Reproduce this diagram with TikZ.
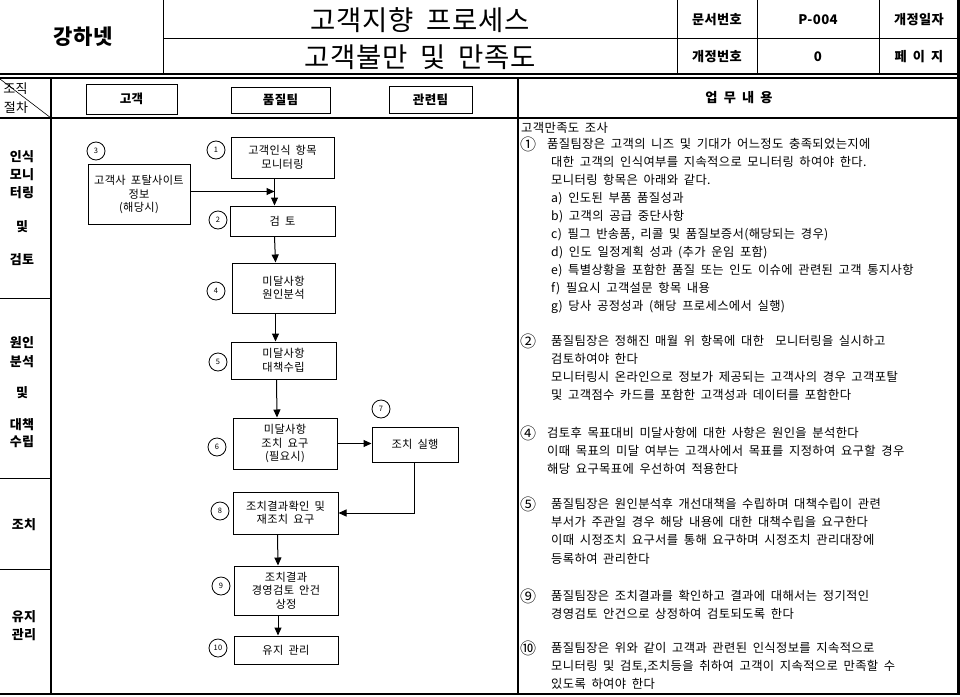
\documentclass[tikz,border=0pt]{standalone}
\usepackage{fontspec}
\setmainfont[WordSpace=1.8,LetterSpace=3]{Noto Sans CJK KR}
\usetikzlibrary{arrows.meta}
\begin{document}
\begin{tikzpicture}[x=1pt,y=-1pt,
  thk/.style={line width=2.2pt},
  thn/.style={line width=1pt},
  box/.style={draw,line width=1pt,inner sep=0pt,align=center,font=\fontsize{11.2}{13.5}\selectfont},
  hbox/.style={draw,line width=1pt,inner sep=0pt,font=\bfseries\fontsize{12.5}{14}\selectfont,text height=10.6pt,text depth=1.2pt},
  num/.style={draw,circle,line width=0.8pt,minimum size=18pt,inner sep=0pt,font=\fontsize{7.5}{8}\selectfont},
  arr/.style={line width=1pt,-{Triangle[length=8pt,width=7pt]}},
  ln/.style={anchor=west,inner sep=0pt,font=\fontsize{12.3}{14}\selectfont,text height=10.5pt,text depth=1.2pt},
  kn/.style={anchor=west,inner sep=0pt,font=\fontsize{16}{18}\selectfont,text height=13.6pt,text depth=1.6pt},
  lab/.style={inner sep=0pt,font=\bfseries\fontsize{13}{15}\selectfont,text height=11pt,text depth=1.3pt},
  hd/.style={inner sep=0pt,font=\bfseries\fontsize{13.2}{15}\selectfont,text height=11.2pt,text depth=1.3pt},
  ttl/.style={inner sep=0pt,font=\fontsize{27.5}{30}\selectfont,text height=23.4pt,text depth=2.8pt},
]
\useasboundingbox (0,0) rectangle (960,696);
% ---------- frame ----------
\draw[thn] (163,0) -- (163,74);
\draw[thn] (163,38) -- (958,38);
\draw[thn] (677,0) -- (677,74);
\draw[thn] (757,0) -- (757,74);
\draw[thn] (879,0) -- (879,74);
\draw[thk] (958.5,0) -- (958.5,694);
\draw[thk] (0,74) -- (959.6,74);
\draw[thk] (0,78) -- (959.6,78);
\draw[thk] (0,118) -- (959.6,118);
\draw[thk] (51,78) -- (51,694);
\draw[line width=1.2pt] (518,78) -- (518,694);
\draw[thn] (0,298) -- (51,298);
\draw[thn] (0,478) -- (51,478);
\draw[thn] (0,569) -- (51,569);
\draw[thk] (0,694) -- (959.6,694);
\draw[line width=0.6pt] (0,79) -- (51,118);
% ---------- header ----------
\node[inner sep=0pt,font=\bfseries\fontsize{21}{24}\selectfont,text height=17.9pt,text depth=2.1pt] (co) at (83,37) {강하넷};
\node[ttl] (t1) at (420,20) {고객지향 프로세스};
\node[ttl] (t2) at (420,57) {고객불만 및 만족도};
\node[hd] (d1) at (717,19.5) {문서번호};
\node[hd] (d2) at (818,19.5) {P-004};
\node[hd] (d3) at (919,19.5) {개정일자};
\node[hd] (d4) at (717,57) {개정번호};
\node[hd] (d5) at (818,57) {0};
\node[hd] (d6) at (919,57) {페 이 지};
% ---------- column heads ----------
\node[inner sep=0pt,font=\fontsize{13}{15}\selectfont,text height=11pt,text depth=1.3pt] (o1) at (15.5,88.5) {조직};
\node[inner sep=0pt,font=\fontsize{13}{15}\selectfont,text height=11pt,text depth=1.3pt] (o2) at (16,107.5) {절차};
\node[hbox,minimum width=91pt,minimum height=30pt] (h1) at (131.5,99) {고객};
\node[hbox,minimum width=99pt,minimum height=26pt] (h2) at (280.5,100) {품질팀};
\node[hbox,minimum width=83pt,minimum height=27pt] (h3) at (430.5,99.5) {관련팀};
\node[hd] (wk) at (739,97.5) {업 무 내 용};
% ---------- left labels ----------
\node[lab] (l1) at (22,156.5) {인식};
\node[lab] (l2) at (22,174.5) {모니};
\node[lab] (l3) at (22,192.5) {터링};
\node[lab] (l4) at (22,227) {및};
\node[lab] (l5) at (22,259.5) {검토};
\node[lab] (l6) at (22,343) {원인};
\node[lab] (l7) at (22,362) {분석};
\node[lab] (l8) at (22,393) {및};
\node[lab] (l9) at (22,425) {대책};
\node[lab] (l10) at (22,442) {수립};
\node[lab] (l11) at (24,525) {조치};
\node[lab] (l12) at (24,617) {유지};
\node[lab] (l13) at (24,635) {관리};
% ---------- flow boxes ----------
\node[box,minimum width=102pt,minimum height=60pt] (b3) at (139,194.5) {고객사 포탈사이트\\정보\\(해당시)};
\node[box,minimum width=103pt,minimum height=41pt] (b1) at (282.5,157.5) {고객인식 항목\\모니터링};
\node[box,minimum width=105pt,minimum height=30pt] (b2) at (282.5,221) {검 토};
\node[box,minimum width=103pt,minimum height=50pt] (b4) at (283.5,288) {미달사항\\원인분석};
\node[box,minimum width=105pt,minimum height=37pt] (b5) at (283.5,360.5) {미달사항\\대책수립};
\node[box,minimum width=104pt,minimum height=51pt] (b6) at (285,443.5) {미달사항\\조치 요구\\(필요시)};
\node[box,minimum width=86pt,minimum height=35pt] (b7) at (415,444.5) {조치 실행};
\node[box,minimum width=105pt,minimum height=42pt] (b8) at (285.5,513) {조치결과확인 및\\재조치 요구};
\node[box,minimum width=104pt,minimum height=49pt] (b9) at (286,590.5) {조치결과\\경영검토 안건\\상정};
\node[box,minimum width=104pt,minimum height=28pt] (b10) at (286,650) {유지 관리};
% ---------- numbers ----------
\node[num] (c3) at (96,151) {3};
\node[num] (c1) at (216,150) {1};
\node[num] (c2) at (218,220) {2};
\node[num] (c4) at (216,291) {4};
\node[num] (c5) at (218,362) {5};
\node[num] (c6) at (217,447) {6};
\node[num] (c7) at (381,409) {7};
\node[num] (c8) at (220,511) {8};
\node[num] (c9) at (221,586) {9};
\node[num] (c10) at (218,648) {10};
% ---------- connectors ----------
\coordinate (s1) at ([xshift=-8pt]b1.south);
\coordinate (n2) at ([xshift=-8pt]b2.north);
\coordinate (e3) at ([yshift=3pt]b3.east);
\draw[arr] (s1) -- (n2);
\draw[arr] (e3) -- (e3 -| s1);
\draw[arr] ([xshift=-8pt]b2.south) -- ([xshift=-8pt]b4.north);
\draw[arr] ([xshift=-8pt]b4.south) -- ([xshift=-8pt]b5.north);
\draw[arr] ([xshift=-7pt]b5.south) -- ([xshift=-8pt]b6.north);
\draw[arr] (b6.east) -- (b6.east -| b7.west);
\draw[arr] ([xshift=-1pt]b7.south) |- (b8.east);
\draw[arr] ([xshift=-8pt]b8.south) -- ([xshift=-8pt]b9.north);
\draw[arr] ([xshift=-8pt]b9.south) -- ([xshift=-8pt]b10.north);
% ---------- right text ----------
\node[ln] (r0) at (521,128) {고객만족도 조사};
\node[kn] (k1) at (520,144) {①};
\node[ln] (r1) at (547,144) {품질팀장은 고객의 니즈 및 기대가 어느정도 충족되었는지에};
\node[ln] (r2) at (551,162) {대한 고객의 인식여부를 지속적으로 모니터링 하여야 한다.};
\node[ln] (r3) at (551,180) {모니터링 항목은 아래와 같다.};
\node[ln] (r4) at (551,197.5) {a) 인도된 부품 품질성과};
\node[ln] (r5) at (551,215.5) {b) 고객의 공급 중단사항};
\node[ln] (r6) at (551,233.5) {c) 필그 반송품, 리콜 및 품질보증서(해당되는 경우)};
\node[ln] (r7) at (551,252) {d) 인도 일정계획 성과 (추가 운임 포함)};
\node[ln] (r8) at (551,270) {e) 특별상황을 포함한 품질 또는 인도 이슈에 관련된 고객 통지사항};
\node[ln] (r9) at (551,288) {f) 필요시 고객설문 항목 내용};
\node[ln] (r10) at (551,306) {g) 당사 공정성과 (해당 프로세스에서 실행)};
\node[kn] (k2) at (520,341) {②};
\node[ln] (r11) at (551,341) {품질팀장은 정해진 매월 위 항목에 대한 \ 모니터링을 실시하고};
\node[ln] (r12) at (551,359) {검토하여야 한다};
\node[ln] (r13) at (551,377) {모니터링시 온라인으로 정보가 제공되는 고객사의 경우 고객포탈};
\node[ln] (r14) at (551,395) {및 고객점수 카드를 포함한 고객성과 데이터를 포함한다};
\node[kn] (k4) at (520,433) {④};
\node[ln] (r15) at (547,433) {검토후 목표대비 미달사항에 대한 사항은 원인을 분석한다};
\node[ln] (r16) at (547,451) {이때 목표의 미달 여부는 고객사에서 목표를 지정하여 요구할 경우};
\node[ln] (r17) at (547,469) {해당 요구목표에 우선하여 적용한다};
\node[kn] (k5) at (520,504) {⑤};
\node[ln] (r18) at (551,504) {품질팀장은 원인분석후 개선대책을 수립하며 대책수립이 관련};
\node[ln] (r19) at (551,522) {부서가 주관일 경우 해당 내용에 대한 대책수립을 요구한다};
\node[ln] (r20) at (551,540) {이때 시정조치 요구서를 통해 요구하며 시정조치 관리대장에};
\node[ln] (r21) at (551,559) {등록하여 관리한다};
\node[kn] (k9) at (520,596) {⑨};
\node[ln] (r22) at (551,596) {품질팀장은 조치결과를 확인하고 결과에 대해서는 정기적인};
\node[ln] (r23) at (551,614) {경영검토 안건으로 상정하여 검토되도록 한다};
\node[kn] (k10) at (520,648) {⑩};
\node[ln] (r24) at (551,648) {품질팀장은 위와 같이 고객과 관련된 인식정보를 지속적으로};
\node[ln] (r25) at (551,666) {모니터링 및 검토,조치등을 취하여 고객이 지속적으로 만족할 수};
\node[ln] (r26) at (551,684) {있도록 하여야 한다};
\end{tikzpicture}
\end{document}
